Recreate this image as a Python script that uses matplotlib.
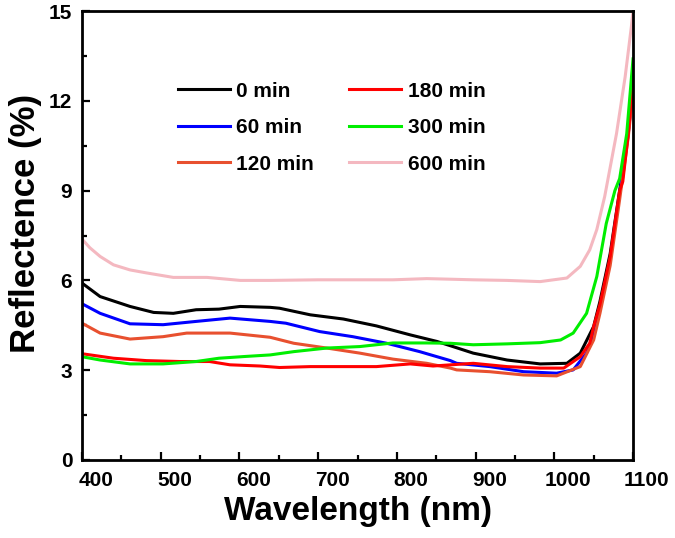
import matplotlib
matplotlib.use("Agg")
import matplotlib.pyplot as plt
from matplotlib.ticker import MultipleLocator
from matplotlib.transforms import ScaledTranslation

# wavelength (nm) / reflectance (%)
wl_0 = [380, 400, 423, 461, 491, 516, 545, 574, 601, 639, 651, 690, 732, 774, 817, 851, 870,
        897, 940, 982, 1016, 1033, 1050, 1058, 1071, 1083, 1094, 1100]
r_0 = [6.3, 5.91, 5.46, 5.13, 4.93, 4.9, 5.02, 5.04, 5.13, 5.1, 5.07, 4.85, 4.71, 4.48, 4.18, 3.96, 3.8,
       3.57, 3.34, 3.21, 3.23, 3.57, 4.46, 5.3, 6.9, 9.0, 11.0, 12.6]

wl_60 = [380, 400, 423, 461, 503, 545, 588, 639, 659, 702, 744, 787, 829, 868, 876, 918, 961,
         1003, 1024, 1041, 1050, 1058, 1071, 1083, 1094, 1100]
r_60 = [5.5, 5.22, 4.9, 4.55, 4.52, 4.63, 4.74, 4.63, 4.57, 4.29, 4.12, 3.9, 3.62, 3.32, 3.23, 3.12, 2.95,
        2.9, 3.01, 3.57, 4.2, 5.1, 6.7, 8.9, 10.9, 12.5]

wl_120 = [380, 400, 423, 461, 503, 533, 588, 639, 669, 711, 753, 795, 838, 868, 876, 918, 961,
          1003, 1033, 1050, 1058, 1071, 1083, 1094, 1100]
r_120 = [4.9, 4.57, 4.24, 4.04, 4.12, 4.24, 4.24, 4.1, 3.9, 3.74, 3.57, 3.37, 3.23, 3.07, 3.01, 2.95, 2.84,
         2.81, 3.12, 4.01, 4.9, 6.5, 8.7, 10.8, 12.3]

wl_180 = [380, 400, 440, 482, 524, 562, 588, 626, 651, 690, 774, 817, 846, 897, 940, 982, 1012,
          1033, 1045, 1050, 1058, 1071, 1083, 1087, 1094, 1100]
r_180 = [3.6, 3.55, 3.4, 3.32, 3.29, 3.29, 3.18, 3.14, 3.09, 3.12, 3.12, 3.21, 3.14, 3.23, 3.12, 3.07, 3.07,
         3.45, 3.9, 4.46, 5.2, 6.8, 9.0, 9.3, 10.9, 12.7]

wl_300 = [380, 400, 423, 461, 503, 545, 574, 608, 639, 669, 711, 753, 795, 838, 868, 897, 940,
          982, 1008, 1024, 1041, 1054, 1066, 1077, 1083, 1092, 1100]
r_300 = [3.5, 3.45, 3.34, 3.21, 3.21, 3.29, 3.4, 3.46, 3.51, 3.62, 3.74, 3.79, 3.91, 3.91, 3.9, 3.85, 3.88,
         3.92, 4.01, 4.24, 4.9, 6.13, 7.9, 9.0, 9.4, 10.9, 13.4]

wl_600 = [380, 400, 410, 423, 440, 461, 482, 516, 559, 601, 639, 700, 795, 838, 868, 897, 940,
          982, 1016, 1033, 1045, 1054, 1064, 1079, 1090, 1098, 1100]
r_600 = [7.8, 7.38, 7.09, 6.8, 6.52, 6.35, 6.25, 6.1, 6.1, 6.0, 6.0, 6.02, 6.02, 6.06, 6.04, 6.02, 6.0,
         5.96, 6.08, 6.47, 7.02, 7.7, 8.8, 10.9, 12.8, 14.5, 15.0]

labels = ["0 min", "60 min", "120 min", "180 min", "300 min", "600 min"]
colors = ["#000000", "#0000ff", "#e8502f", "#ff0000", "#00ee00", "#f4b8c0"]
series = [(wl_0, r_0), (wl_60, r_60), (wl_120, r_120), (wl_180, r_180), (wl_300, r_300), (wl_600, r_600)]
x_ticks = [400, 500, 600, 700, 800, 900, 1000, 1100]
y_ticks = [0, 3, 6, 9, 12, 15]

plt.rcParams["font.family"] = ["Liberation Sans", "DejaVu Sans"]
plt.rcParams["font.weight"] = "bold"

fig = plt.figure(figsize=(6.75, 5.38), dpi=100)
ax = fig.add_axes([0.1215, 0.145, 0.8163, 0.8345])

for (x, y), c, lab in zip(series, colors, labels):
    ax.plot(x, y, color=c, lw=2.2, label=lab)

ax.set_xlim(400, 1100)
ax.set_ylim(0, 15)
ax.set_xticks(x_ticks)
ax.set_yticks(y_ticks)
ax.xaxis.set_minor_locator(MultipleLocator(50))
ax.yaxis.set_minor_locator(MultipleLocator(1.5))

ax.tick_params(which="major", direction="in", length=6, width=1.6, labelsize=15, top=False, right=False)
ax.tick_params(which="minor", direction="in", length=3.5, width=1.6, top=False, right=False)
ax.tick_params(axis="x", which="major", pad=8)
ax.tick_params(axis="y", which="major", pad=7)
for sp in ax.spines.values():
    sp.set_linewidth(2.0)

ax.set_xlabel("Wavelength (nm)", fontsize=24, fontweight="bold", labelpad=4)
ax.set_ylabel("Reflectence (%)", fontsize=25, fontweight="bold")
ax.yaxis.set_label_coords(-0.073, 0.528)

# the x labels sit a little right of their ticks in the original
for lab in ax.get_xticklabels():
    lab.set_transform(lab.get_transform() + ScaledTranslation(10 / 72, 0, fig.dpi_scale_trans))

ax.legend(ncol=2, frameon=False, loc="upper left", bbox_to_anchor=(0.155, 0.866),
          borderpad=0, handlelength=2.5, handletextpad=0.3, columnspacing=1.7,
          labelspacing=0.84, prop={"size": 15, "weight": "bold"})

fig.savefig("out.png", dpi=100)
